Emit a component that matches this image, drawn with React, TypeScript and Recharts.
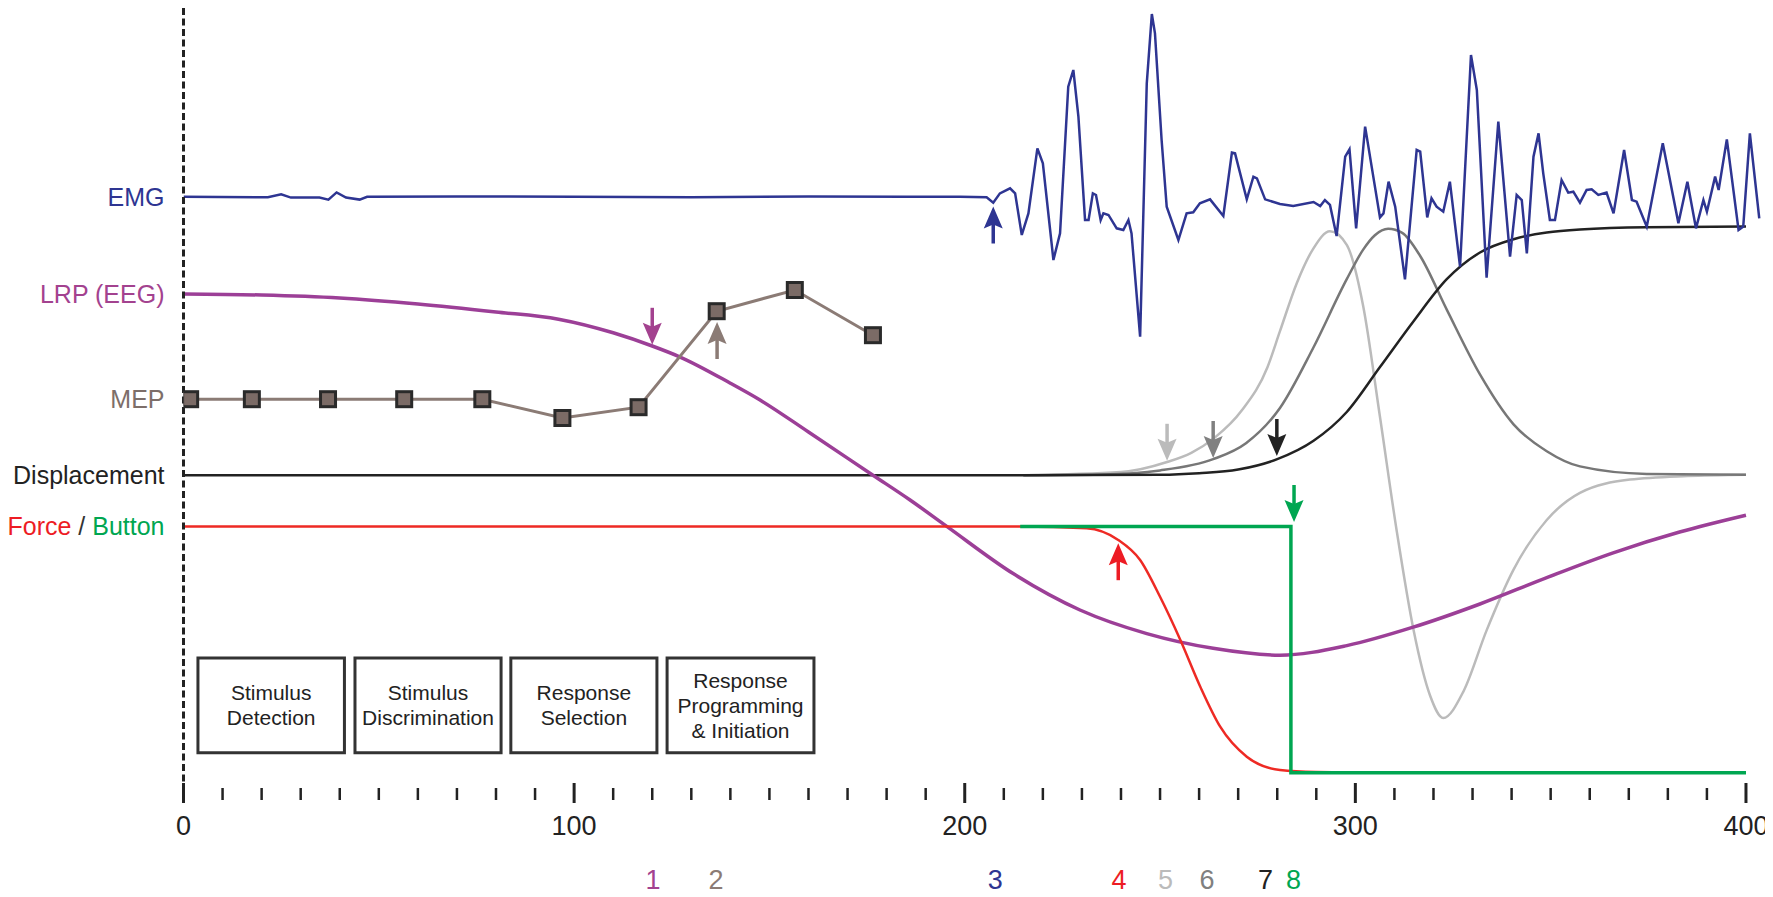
import React from 'react';
import { ComposedChart, Line, Scatter, XAxis, YAxis, ReferenceArea } from 'recharts';

const FONT = "'Liberation Sans', Arial, Helvetica, sans-serif";

// ---- data (x in ms, y in arbitrary stacked units) ----
const emgPts: number[][] = [
  [0, 73.4], [21.6, 73.35], [25, 73.7], [27.5, 73.3], [34.8, 73.3], [37.1, 73.05], [39.2, 73.95], [41.6, 73.3],
  [45.1, 73.05], [47, 73.4], [70, 73.45], [100, 73.4], [130, 73.35], [160, 73.45], [185, 73.4], [198.8, 73.42],
  [205.6, 73.33], [207.3, 72.67], [209.0, 73.83], [211.6, 74.46], [212.9, 73.83], [214.6, 68.63], [216.3, 71.33],
  [218.6, 79.46], [220.0, 77.58], [222.7, 65.5], [224.4, 68.83], [226.5, 87.17], [227.8, 89.25], [229.1, 83.42],
  [230.8, 70.5], [231.7, 70.5], [232.8, 73.83], [233.6, 73.63], [234.8, 70.5], [235.5, 71.33], [236.8, 71.13],
  [238.9, 69.46], [240.6, 69.25], [241.9, 70.5], [242.7, 68.83], [244.9, 55.92], [246.6, 87.58], [247.9, 96.25],
  [248.7, 93.83], [250.4, 80.5], [251.7, 72.17], [254.7, 68.0], [256.8, 71.33], [258.5, 71.46], [260.2, 72.58],
  [262.8, 73.08], [266.2, 71.0], [268.4, 78.92], [269.2, 78.83], [272.2, 73.08], [273.9, 75.92], [274.8, 75.71],
  [276.9, 73.08], [280.7, 72.5], [284.1, 72.25], [289.3, 72.75], [291.0, 72.25], [292.2, 73.0], [293.5, 72.38],
  [295.2, 68.5], [297.4, 78.42], [298.5, 79.33], [300.2, 69.46], [302.5, 82.17], [306.3, 70.83], [307.2, 71.33],
  [308.5, 75.29], [310.2, 72.17], [312.7, 63.08], [315.7, 79.25], [316.6, 79.04], [318.4, 70.83], [319.5, 73.21],
  [320.8, 72.17], [322.5, 71.54], [324.2, 75.29], [326.8, 64.67], [329.6, 91.13], [331.1, 86.75], [333.6, 63.29],
  [336.6, 82.79], [339.6, 65.92], [341.3, 73.63], [342.6, 73.0], [343.9, 66.33], [345.6, 78.42], [346.9, 81.33],
  [348.1, 76.33], [349.8, 70.5], [351.1, 70.5], [352.8, 75.5], [354.5, 73.92], [355.8, 74.04], [357.5, 72.67],
  [359.2, 74.25], [360.5, 74.33], [362.2, 73.63], [364.3, 73.92], [366.1, 71.33], [368.8, 79.25], [370.8, 73.0],
  [372.0, 72.79], [374.6, 69.67], [378.7, 80.08], [382.7, 70.08], [385.0, 75.29], [387.2, 69.46], [389.1, 73.0],
  [390.0, 71.54], [392.1, 75.92], [393.0, 74.25], [395.1, 80.58], [398.1, 69.25], [399.3, 69.67], [401.0, 81.33],
  [403.4, 70.71],
];

const lrpPts: number[][] = [
  [0, 61.25], [20, 61.12], [40, 60.75], [60, 60.0], [80, 59.0], [96, 58.1], [110, 56.4], [120, 54.75], [127, 53.4],
  [140, 50.1], [147.6, 48.0], [160, 44.0], [176.5, 38.6], [186, 35.5], [195.4, 32.2], [212.4, 26.3], [229.5, 21.75],
  [246.6, 18.8], [263.6, 16.96], [280.7, 16.1], [297.8, 17.3], [314.8, 19.6], [331.9, 22.5], [349, 25.8],
  [366, 28.9], [383, 31.5], [400, 33.6],
];

const mepX = [1.7, 17.5, 37, 56.5, 76.5, 97, 116.5, 136.5, 156.5, 176.5];
const mepY = [48.1, 48.1, 48.1, 48.1, 48.1, 45.75, 47.1, 59.1, 61.75, 56.1];

const dispBlackPts: number[][] = [
  [0, 38.6], [215, 38.6], [250, 38.66], [260, 38.85], [270, 39.3], [280, 40.6], [289.3, 42.9], [297.8, 46.5],
  [306.3, 52.12], [314.9, 57.85], [323.4, 63.1], [331.9, 66.44], [340.5, 68.1], [357.5, 69.3], [374.6, 69.6],
  [400, 69.68],
];

const dispGrayPts: number[][] = [
  [215, 38.6], [235, 38.7], [250, 39.2], [263.6, 40.6], [272, 42.6], [280.7, 47.0], [289.2, 54.5], [297.8, 63.1],
  [302, 66.8], [305, 68.6], [308.4, 69.4], [312, 68.9], [316.6, 66.0], [323.4, 59.3], [331.9, 51.2], [340.5, 44.96],
  [349, 41.6], [357.5, 39.7], [374.6, 38.76], [400, 38.66],
];

const dispLightPts: number[][] = [
  [215, 38.6], [240, 39.0], [251.8, 40.25], [258, 41.4], [264, 43.3], [271, 46.75], [277.5, 52.1], [280.7, 56.6],
  [285, 62.6], [289.2, 66.9], [293.5, 69.1], [297.8, 67.4], [302, 59.75], [306.3, 45.9], [310.6, 31.6],
  [314.9, 19.25], [319.1, 11.1], [322.5, 8.25], [327.7, 11.6], [333.6, 19.2], [340.5, 26.8], [349, 33.0],
  [357.5, 36.4], [370.3, 38.05], [385, 38.5], [400, 38.66],
];

const forcePts: number[][] = [
  [0, 32.2], [214.2, 32.2], [231.2, 31.96], [239.3, 30.5], [244.9, 28.0], [250, 23.4], [255.2, 18.0],
  [260.3, 12.16], [265.4, 7.16], [272.2, 3.41], [280.7, 1.75], [290, 1.5], [300, 1.45],
];

const buttonPts: number[][] = [[214.2, 32.2], [283.5, 32.2], [283.5, 1.4], [400, 1.4]];

const arrowX = [120, 136.6, 207.3, 239.3, 251.8, 263.6, 279.9, 284.3];
const arrowY = [54.9, 57.75, 72.2, 30.1, 40.4, 40.75, 41.0, 32.75];
const arrowDir = ['down', 'up', 'up', 'up', 'down', 'down', 'down', 'down'];
const markColors = ['#a3428f', '#8b7b75', '#2e3592', '#ed1c24', '#bbbbbb', '#808080', '#222222', '#00a651'];
const markLabels = ['1', '2', '3', '4', '5', '6', '7', '8'];
const markLabelX = [120.2, 136.3, 207.8, 239.5, 251.4, 262, 277, 284.2];

const traceLabelY = [73.4, 61.25, 48.1, 38.6, 32.2];
const traceLabels = ['EMG', 'LRP (EEG)', 'MEP', 'Displacement', 'Force / Button'];

const stageNames = [
  ['Stimulus', 'Detection'],
  ['Stimulus', 'Discrimination'],
  ['Response', 'Selection'],
  ['Response', 'Programming', '& Initiation'],
];
const stageX1 = [3.7, 43.9, 83.8, 123.8];
const stageX2 = [41.2, 81.3, 121.2, 161.4];
const stageY1 = 3.9;
const stageY2 = 15.75;

const xTicks = Array.from({ length: 41 }, (_, i) => i * 10);
const majorLabels = ['0', '100', '200', '300', '400'];

// ---- build ----
const pts = (a: number[][]) => a.map(([x, y]) => ({ x, y }));
const emgData = pts(emgPts);
const lrpData = pts(lrpPts);
const mepData = mepX.map((x, i) => ({ x, y: mepY[i] }));
const blackData = pts(dispBlackPts);
const grayData = pts(dispGrayPts);
const lightData = pts(dispLightPts);
const forceData = pts(forcePts);
const buttonData = pts(buttonPts);
const arrowData = arrowX.map((x, i) => ({ x, y: arrowY[i], dir: arrowDir[i], color: markColors[i] }));

const ArrowShape = (props: any) => {
  const { cx, cy, payload } = props;
  if (cx == null || cy == null) return null;
  const c = payload.color;
  const s = payload.dir === 'down' ? -1 : 1;
  const hl = 22;
  const hw = 9.5;
  const len = 37;
  const d = `M${cx},${cy} L${cx - hw},${cy + s * hl} L${cx},${cy + s * (hl - 4)} L${cx + hw},${cy + s * hl} Z`;
  return (
    <g>
      <line x1={cx} y1={cy + s * (hl - 6)} x2={cx} y2={cy + s * len} stroke={c} strokeWidth={3.5} />
      <path d={d} fill={c} />
    </g>
  );
};

const MepDot = (props: any) => {
  const { cx, cy } = props;
  if (cx == null || cy == null) return null;
  return <rect x={cx - 7.5} y={cy - 7.5} width={15} height={15} fill="#7b6b66" stroke="#2a2a2a" strokeWidth={3} />;
};

const XTick = (props: any) => {
  const { x, y, payload } = props;
  const v = payload.value;
  const major = v % 100 === 0;
  return (
    <g>
      {major ? (
        <line x1={x} y1={y - 1} x2={x} y2={y + 19} stroke="#222" strokeWidth={3} />
      ) : (
        <line x1={x} y1={y + 4} x2={x} y2={y + 16} stroke="#222" strokeWidth={2.5} />
      )}
      {major && (
        <text x={x} y={y + 51} textAnchor="middle" fontSize={27} fill="#222" fontFamily={FONT}>
          {majorLabels[v / 100]}
        </text>
      )}
    </g>
  );
};

const NumTick = (props: any) => {
  const { x, y, index } = props;
  return (
    <text x={x} y={y + 50} textAnchor="middle" fontSize={27} fill={markColors[index]} fontFamily={FONT}>
      {markLabels[index]}
    </text>
  );
};

const YTick = (props: any) => {
  const { x, y, payload } = props;
  const i = traceLabelY.indexOf(payload.value);
  const colors = ['#2e3592', '#a3428f', '#7d6e69', '#222222'];
  if (i === 4) {
    return (
      <text x={x - 19} y={y} dy="0.36em" textAnchor="end" fontSize={25} fontFamily={FONT}>
        <tspan fill="#ed1c24">Force</tspan>
        <tspan fill="#333"> / </tspan>
        <tspan fill="#00a651">Button</tspan>
      </text>
    );
  }
  return (
    <text x={x - 19} y={y} dy="0.36em" textAnchor="end" fontSize={25} fill={colors[i]} fontFamily={FONT}>
      {traceLabels[i]}
    </text>
  );
};

const boxLabel = (lines: string[]) => (p: any) => {
  const vb = p.viewBox || {};
  const cx = vb.x + vb.width / 2;
  const cy = vb.y + vb.height / 2;
  const lh = 25;
  const first = cy - ((lines.length - 1) * lh) / 2 + 7.5;
  return (
    <text textAnchor="middle" fontSize={21} fill="#222" fontFamily={FONT}>
      {lines.map((l, k) => (
        <tspan key={k} x={cx} y={first + k * lh}>
          {l}
        </tspan>
      ))}
    </text>
  );
};

export default function App() {
  return (
    <div style={{ width: 1765, height: 889, fontFamily: FONT }}>
      <ComposedChart width={1765} height={889} margin={{ top: 0, right: 11.4, bottom: 0, left: 0 }}>
        <XAxis
          xAxisId={0}
          dataKey="x"
          type="number"
          domain={[0, 404]}
          ticks={xTicks}
          interval={0}
          axisLine={false}
          tickLine={false}
          tickSize={0}
          tickMargin={0}
          height={55}
          tick={XTick}
          allowDataOverflow
        />
        <XAxis
          xAxisId="num"
          dataKey="x"
          type="number"
          domain={[0, 404]}
          ticks={markLabelX}
          interval={0}
          axisLine={false}
          tickLine={false}
          tickSize={0}
          tickMargin={0}
          height={58}
          tick={NumTick}
          allowDataOverflow
        />
        <YAxis
          dataKey="y"
          type="number"
          domain={[0, 97]}
          width={175.5}
          ticks={traceLabelY}
          interval={0}
          tickLine={false}
          tickSize={0}
          tickMargin={0}
          axisLine={{ stroke: '#222', strokeWidth: 3, strokeDasharray: '7 3.5' }}
          tick={YTick}
        />
        {stageNames.map((lines, i) => (
          <ReferenceArea
            key={i}
            x1={stageX1[i]}
            x2={stageX2[i]}
            y1={stageY1}
            y2={stageY2}
            fill="#ffffff"
            fillOpacity={1}
            stroke="#333"
            strokeWidth={3}
            label={boxLabel(lines)}
          />
        ))}
        <Line data={lightData} dataKey="y" type="monotone" stroke="#bbbbbb" strokeWidth={2.5} dot={false} isAnimationActive={false} />
        <Line data={grayData} dataKey="y" type="monotone" stroke="#777777" strokeWidth={2.5} dot={false} isAnimationActive={false} />
        <Line data={blackData} dataKey="y" type="monotone" stroke="#222222" strokeWidth={2.5} dot={false} isAnimationActive={false} />
        <Line data={emgData} dataKey="y" type="linear" stroke="#2e3592" strokeWidth={2.5} dot={false} isAnimationActive={false} />
        <Line data={lrpData} dataKey="y" type="monotone" stroke="#9c3f97" strokeWidth={3.5} dot={false} isAnimationActive={false} />
        <Line data={mepData} dataKey="y" type="linear" stroke="#8b7b75" strokeWidth={3} dot={MepDot} isAnimationActive={false} />
        <Line data={forceData} dataKey="y" type="monotone" stroke="#ee2a24" strokeWidth={2.5} dot={false} isAnimationActive={false} />
        <Line data={buttonData} dataKey="y" type="linear" stroke="#00a651" strokeWidth={3.5} dot={false} isAnimationActive={false} />
        <Scatter data={arrowData} dataKey="y" shape={ArrowShape} isAnimationActive={false} />
      </ComposedChart>
    </div>
  );
}
